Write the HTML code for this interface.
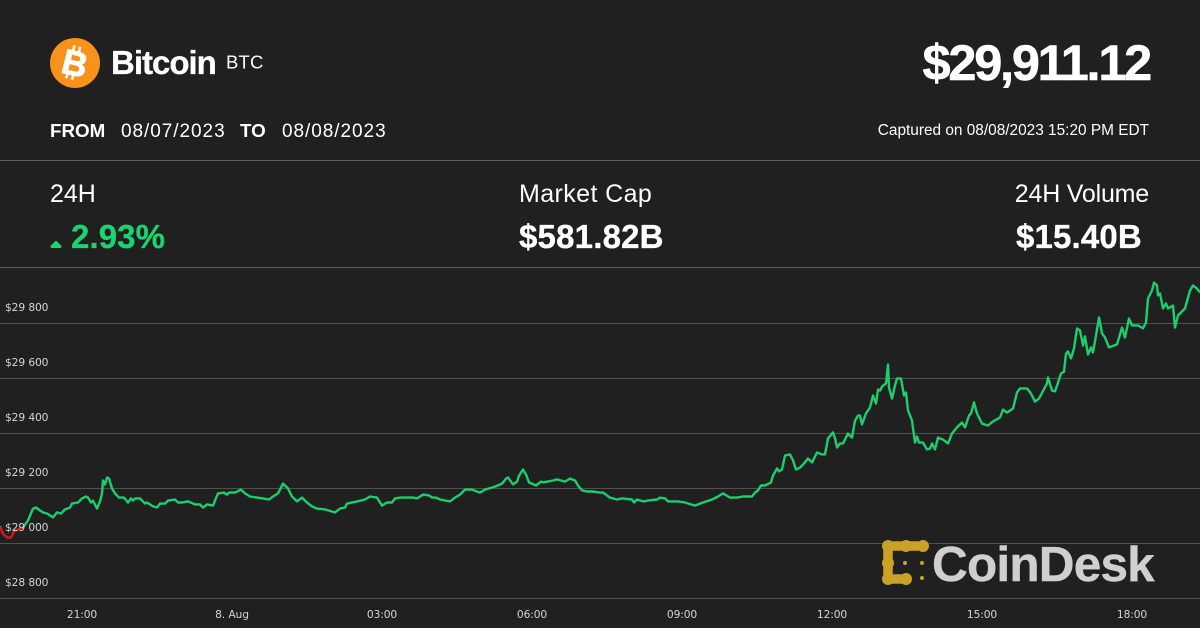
<!DOCTYPE html>
<html lang="en">
<head>
<meta charset="utf-8">
<title>Bitcoin BTC price chart</title>
<style>
  html, body { margin: 0; padding: 0; background: #202020; }
  #stage { display: block; width: 1200px; height: 628px; background: #202020; font-family: "Liberation Sans", sans-serif; }
  .axis-label { font-family: "DejaVu Sans", sans-serif; font-size: 10.7px; letter-spacing: -0.12px; fill: #d4d4d4; }
</style>
</head>
<body>
<svg id="stage" xmlns="http://www.w3.org/2000/svg" width="1200" height="628" viewBox="0 0 1200 628">
  <rect x="0" y="0" width="1200" height="628" fill="#202020"/>

  <g>
    <circle cx="75" cy="63" r="25" fill="#f7931a"/>
    <g transform="rotate(14 75 63)" fill="#ffffff" stroke="#ffffff">
      <text x="75" y="75.5" text-anchor="middle" font-size="35" font-weight="700" stroke-width="0.9" font-family="Liberation Sans, sans-serif">B</text>
      <rect x="69" y="46" width="2.4" height="6" stroke="none"/>
      <rect x="75" y="46" width="2.4" height="6" stroke="none"/>
      <rect x="69" y="74" width="2.4" height="6" stroke="none"/>
      <rect x="75" y="74" width="2.4" height="6" stroke="none"/>
    </g>
  </g>
  <text x="111" y="74" font-size="33" font-weight="700" letter-spacing="-1" stroke="#ffffff" stroke-width="0.3" fill="#ffffff">Bitcoin</text>
  <text x="226" y="68.5" font-size="18.5" letter-spacing="0.2" fill="#ffffff">BTC</text>
  <text x="1150" y="80" text-anchor="end" font-size="50.5" font-weight="700" letter-spacing="-2.25" stroke="#ffffff" stroke-width="0.6" fill="#ffffff">$29,911.12</text>

  <text x="50" y="137" font-size="18.8" font-weight="700" fill="#ffffff">FROM</text>
  <text x="121" y="137" font-size="19" letter-spacing="0.95" fill="#ffffff">08/07/2023</text>
  <text x="240" y="137" font-size="18.8" font-weight="700" fill="#ffffff">TO</text>
  <text x="282" y="137" font-size="19" letter-spacing="0.95" fill="#ffffff">08/08/2023</text>
  <text x="1149" y="135" text-anchor="end" font-size="15.4" fill="#ffffff">Captured on 08/08/2023 15:20 PM EDT</text>

  <rect x="0" y="160" width="1200" height="1" fill="#5c5c5c"/>

  <text x="50" y="202" font-size="25" fill="#ffffff">24H</text>
  <polygon points="52,246.5 56,242.5 60,246.5" fill="#19d46f" stroke="#19d46f" stroke-width="3" stroke-linejoin="round"/>
  <text x="71" y="248" font-size="33" font-weight="700" letter-spacing="0.1" stroke="#19d46f" stroke-width="0.3" fill="#19d46f">2.93%</text>

  <text x="519" y="202" font-size="25" letter-spacing="0.4" fill="#ffffff">Market Cap</text>
  <text x="519" y="248" font-size="33" font-weight="700" letter-spacing="0.2" stroke="#ffffff" stroke-width="0.3" fill="#ffffff">$581.82B</text>

  <text x="1149" y="202" text-anchor="end" font-size="25" letter-spacing="-0.2" fill="#ffffff">24H Volume</text>
  <text x="1016" y="248" font-size="33" font-weight="700" letter-spacing="0.15" stroke="#ffffff" stroke-width="0.3" fill="#ffffff">$15.40B</text>

  <rect x="0" y="267" width="1200" height="1" fill="#5c5c5c"/>

  <g id="grid"></g>
  <g id="series"></g>
  <g id="yLabels"></g>
  <g id="xLabels"></g>

  <g>
    <g fill="none" stroke="#c9a227" stroke-width="9.5" stroke-linecap="round" stroke-linejoin="round">
      <polyline points="923,546 888,546 888,579 907,579"/>
    </g>
    <g fill="#c9a227">
      <circle cx="888" cy="546" r="6"/>
      <circle cx="906" cy="546" r="6"/>
      <circle cx="923" cy="546" r="6"/>
      <circle cx="888" cy="563" r="6"/>
      <circle cx="888" cy="579" r="6"/>
      <circle cx="906" cy="579" r="6"/>
      <circle cx="905" cy="563" r="2"/>
      <circle cx="922" cy="563" r="2"/>
      <circle cx="922" cy="578" r="2"/>
    </g>
    <text x="932" y="581" font-size="49.5" font-weight="700" letter-spacing="-0.8" stroke="#cfcfcf" stroke-width="0.4" fill="#cfcfcf">CoinDesk</text>
  </g>
</svg>

<script>
// Minutes since the start of the 24h window (19:21.6)
const times = [
  0,3.6,8.4,13.2,16.8,21.6,27.6,33.6,39.6,43.2,48,51.6,56.4,63.6,68.4,73.2,78,84,86.4,93.6,98.4,103.2,105.6,109.2,111.6,116.4,120,122.4,123.6,126,128.4,130.8,134.4,138,142.8,148.8,153.6,157.2,159.6,162,168,174,176.4,183.6,188.4,192,198,201.6,210,213.6,218.4,225.6,234,240,
  243.6,248.4,255.6,258,261.6,268.8,272.4,274.8,282,289.2,294,300,308.4,315.6,322.8,327.6,333.6,339.6,342,345.6,350.4,356.4,362.4,368.4,374.4,380.4,390,402,408,414,416.4,428.4,438,444,452.4,458.4,464.4,470.4,474,480,
  486,495.6,500.4,507.6,514.8,518.4,523.2,528,540,546,552,558,566.4,576,582,594,602.4,607.2,609.6,615.6,620.4,622.8,627.6,631.2,634.8,643.2,649.2,651.6,663.6,668.4,678,684,690,693.6,698.4,704.4,710.4,720,
  723.6,732,740.4,746.4,758.4,760.8,764.4,771.6,777.6,788.4,792,798,801.6,813.6,822,834,843.6,854.4,861.6,867.6,876,884.4,891.6,902.4,906,909.6,913.2,918,925.2,927.6,932.4,934.8,938.4,942,948,951.6,955.2,960,
  964.8,969.6,974.4,980.4,986.4,990,993.6,999.6,1002,1004.4,1008,1011.6,1017.6,1022.4,1026,1029.6,1032,1034.4,1039.2,1044,1047.6,1051.2,1053.6,1056,1058.4,1063.2,1065.6,1066.8,1070.4,1074,1076.4,1081.2,1084.8,1087.2,1089.6,1094.4,1098,1100.4,1102.8,1107.6,1112.4,1116,1118.4,1122,1125.6,1131.6,1137.6,1142.4,1148.4,1154.4,1158,1162.8,1165.2,1168.8,1172.4,1176,
  1178.4,1185.6,1191.6,1200,1203.6,1208.4,1215.6,1220.4,1224,1232.4,1237.2,1242,1246.8,1256.4,1257.6,1262.4,1266,1269.6,1273.2,1276.8,1279.2,1281.6,1285.2,1288.8,1292.4,1296,1299.6,1302,1305.6,1309.2,1311.6,1315.2,1318.8,1322.4,1326,1330.8,1340.4,1346.4,1350,1354.8,1358.4,1365.6,1371.6,1375.2,1377.6,1382.4,1384.8,1388.4,1389.6,1392,1395.6,1399.2,1401.6,1407.6,1410,1413.6,1422,1428,1431.6,1436.4,1440
];
const prices = [
  29062,29036,29022,29022,29044,29051,29058,29084,29127,29131,29120,29113,29109,29095,29113,29109,29124,29131,29145,29149,29164,29171,29167,29149,29156,29127,29153,29182,29229,29215,29240,29236,29200,29182,29167,29167,29149,29164,29156,29164,29164,29145,29149,29135,29131,29145,29145,29156,29160,29149,29149,29153,29142,29142,
  29131,29142,29138,29156,29182,29185,29178,29185,29185,29196,29182,29171,29167,29164,29160,29171,29182,29218,29211,29200,29171,29153,29167,29149,29135,29127,29124,29113,29127,29131,29145,29153,29160,29171,29167,29138,29149,29149,29164,29167,
  29167,29167,29164,29178,29175,29167,29167,29160,29153,29167,29178,29196,29196,29185,29196,29207,29218,29236,29240,29215,29225,29247,29269,29251,29222,29211,29225,29222,29229,29233,29225,29236,29229,29211,29193,29189,29189,29185,
  29185,29167,29160,29164,29160,29149,29160,29153,29156,29160,29167,29164,29153,29153,29149,29138,29149,29160,29171,29182,29167,29167,29171,29171,29185,29193,29211,29211,29222,29247,29273,29262,29269,29320,29324,29302,29269,29276,
  29291,29309,29295,29331,29324,29324,29382,29404,29382,29349,29364,29364,29400,29385,29447,29465,29465,29433,29473,29495,29538,29509,29560,29556,29571,29582,29651,29567,29527,29575,29600,29600,29538,29549,29484,29447,29367,29389,29367,29367,29342,29345,29364,29342,29385,29378,29364,29400,29422,29440,29422,29465,29473,29513,29473,29451,
  29436,29429,29444,29458,29487,29476,29491,29549,29564,29564,29545,29516,29527,29582,29604,29556,29553,29585,29618,29625,29691,29698,29673,29709,29782,29775,29720,29753,29687,29713,29695,29756,29822,29764,29749,29713,29724,29785,29749,29818,29793,29793,29782,29804,29891,29920,29949,29938,29902,29909,29855,29873,29855,29865,29785,29829,29855,29920,29938,29927,29913
];
const openPrice = 29060;
const yTickValues = [28800, 29000, 29200, 29400, 29600, 29800];
const yTickLabels = ["$28 800", "$29 000", "$29 200", "$29 400", "$29 600", "$29 800"];
const xTickTimes = [98.4, 278.4, 458.4, 638.4, 818.4, 998.4, 1178.4, 1358.4];
const xTickLabels = ["21:00", "8. Aug", "03:00", "06:00", "09:00", "12:00", "15:00", "18:00"];

const SVG_NS = "http://www.w3.org/2000/svg";
function xScale(minutes) { return minutes * (1200 / 1440); }
function yScale(price) { return 543.5 - (price - 29000) * (55 / 200); }

const gridGroup = document.getElementById("grid");
const yLabelGroup = document.getElementById("yLabels");
const xLabelGroup = document.getElementById("xLabels");
const seriesGroup = document.getElementById("series");

yTickValues.forEach(function (value, i) {
  const gridline = document.createElementNS(SVG_NS, "line");
  
  
  gridline.setAttribute("x1", 0);
  gridline.setAttribute("x2", 1200);
  gridline.setAttribute("y1", yScale(value));
  gridline.setAttribute("y2", yScale(value));
  gridline.setAttribute("stroke", "#505050");
  gridline.setAttribute("stroke-width", 1);
  gridGroup.appendChild(gridline);

  const label = document.createElementNS(SVG_NS, "text");
  
  
  label.setAttribute("class", "axis-label");
  label.setAttribute("x", 5);
  label.setAttribute("y", yScale(value) - 12.5);
  label.textContent = yTickLabels[i];
  yLabelGroup.appendChild(label);
});

xTickTimes.forEach(function (t, i) {
  const label = document.createElementNS(SVG_NS, "text");
  
  
  label.setAttribute("class", "axis-label");
  label.setAttribute("x", xScale(t));
  label.setAttribute("y", 618);
  label.setAttribute("text-anchor", "middle");
  label.textContent = xTickLabels[i];
  xLabelGroup.appendChild(label);
});

const pathData = times.map(function (t, i) {
  return (i ? "L" : "M") + xScale(t).toFixed(1) + " " + yScale(prices[i]).toFixed(1);
}).join(" ");

const defs = document.createElementNS(SVG_NS, "defs");
const thresholdY = yScale(openPrice);
[["clipAbove", 0, thresholdY], ["clipBelow", thresholdY, 628 - thresholdY]].forEach(function (c) {
  const clip = document.createElementNS(SVG_NS, "clipPath");
  clip.setAttribute("id", c[0]);
  const r = document.createElementNS(SVG_NS, "rect");
  r.setAttribute("x", 0);
  r.setAttribute("y", c[1]);
  r.setAttribute("width", 1200);
  r.setAttribute("height", c[2]);
  clip.appendChild(r);
  defs.appendChild(clip);
});
seriesGroup.appendChild(defs);

const upLine = document.createElementNS(SVG_NS, "path");


upLine.setAttribute("d", pathData);
upLine.setAttribute("fill", "none");
upLine.setAttribute("stroke", "#1bcf6d");
upLine.setAttribute("stroke-width", 2.4);
upLine.setAttribute("stroke-linejoin", "round");
upLine.setAttribute("clip-path", "url(#clipAbove)");
seriesGroup.appendChild(upLine);

const downLine = document.createElementNS(SVG_NS, "path");


downLine.setAttribute("d", pathData);
downLine.setAttribute("fill", "none");
downLine.setAttribute("stroke", "#d01c1c");
downLine.setAttribute("stroke-width", 2.4);
downLine.setAttribute("stroke-linejoin", "round");
downLine.setAttribute("clip-path", "url(#clipBelow)");
seriesGroup.appendChild(downLine);
</script>
</body>
</html>
